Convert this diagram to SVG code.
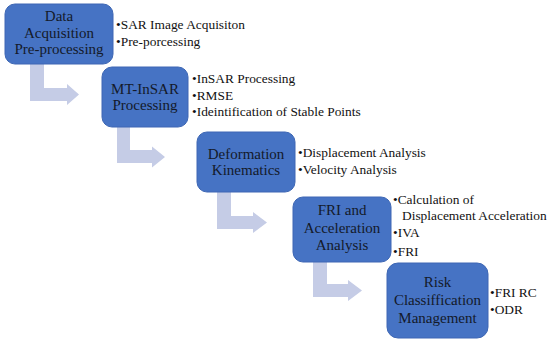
<svg xmlns="http://www.w3.org/2000/svg" width="550" height="343" viewBox="0 0 550 343">
<style>
.box{fill:#4673c4;stroke:#3e67b4;stroke-width:1}
.lbl{font-family:"Liberation Serif","Times New Roman",serif;font-size:15px;fill:#141a2a;text-anchor:middle}
.bul{font-family:"Liberation Serif","Times New Roman",serif;font-size:13.4px;fill:#111}
.arr{fill:#c5cce6;stroke:none}
</style>
<rect width="550" height="343" fill="#ffffff"/>
<g id="connectors">
<path class="arr" d="M30,62 H44 V88 H67 V84 L79,94.5 L67,105 V101 H30 Z"/>
<path class="arr" d="M117,126 H130 V150 H152 V146.5 L165,157 L152,167.5 V163 H117 Z"/>
<path class="arr" d="M217,191 H231 V216 H253 V212 L267,222.5 L253,233 V229 H217 Z"/>
<path class="arr" d="M313,261 H327 V284 H348 V280 L362,290.5 L348,301 V297 H313 Z"/>
</g>
<g id="node-data-acquisition">
<rect class="box" x="5" y="4" width="108" height="60" rx="10"/>
<text class="lbl" x="59" y="21">Data</text>
<text class="lbl" x="59" y="37.5">Acquisition</text>
<text class="lbl" x="59" y="54">Pre-processing</text>
<text class="bul" x="116" y="28.5">•SAR Image Acquisiton</text>
<text class="bul" x="116" y="45.5">•Pre-porcessing</text>
</g>
<g id="node-mt-insar">
<rect class="box" x="102" y="67" width="86" height="60" rx="10"/>
<text class="lbl" x="145" y="93.5">MT-InSAR</text>
<text class="lbl" x="145" y="110">Processing</text>
<text class="bul" x="192" y="83">•InSAR Processing</text>
<text class="bul" x="192" y="99.5">•RMSE</text>
<text class="bul" x="192" y="116">•Ideintification of Stable Points</text>
</g>
<g id="node-deformation">
<rect class="box" x="197" y="132" width="98" height="60" rx="10"/>
<text class="lbl" x="246" y="158.5">Deformation</text>
<text class="lbl" x="246" y="175">Kinematics</text>
<text class="bul" x="298" y="156.5">•Displacement Analysis</text>
<text class="bul" x="298" y="173.5">•Velocity Analysis</text>
</g>
<g id="node-fri-acceleration">
<rect class="box" x="293" y="197" width="98" height="65" rx="10"/>
<text class="lbl" x="342" y="215">FRI and</text>
<text class="lbl" x="342" y="232.5">Acceleration</text>
<text class="lbl" x="342" y="250">Analysis</text>
<text class="bul" x="393" y="203.5">•Calculation of</text>
<text class="bul" x="402" y="220">Displacement Acceleration</text>
<text class="bul" x="393" y="237">•IVA</text>
<text class="bul" x="393" y="255.5">•FRI</text>
</g>
<g id="node-risk">
<rect class="box" x="387" y="263" width="101" height="75" rx="11"/>
<text class="lbl" x="437.5" y="287">Risk</text>
<text class="lbl" x="437.5" y="305">Classiffication</text>
<text class="lbl" x="437.5" y="323">Management</text>
<text class="bul" x="490" y="297">•FRI RC</text>
<text class="bul" x="490" y="314">•ODR</text>
</g>
</svg>
